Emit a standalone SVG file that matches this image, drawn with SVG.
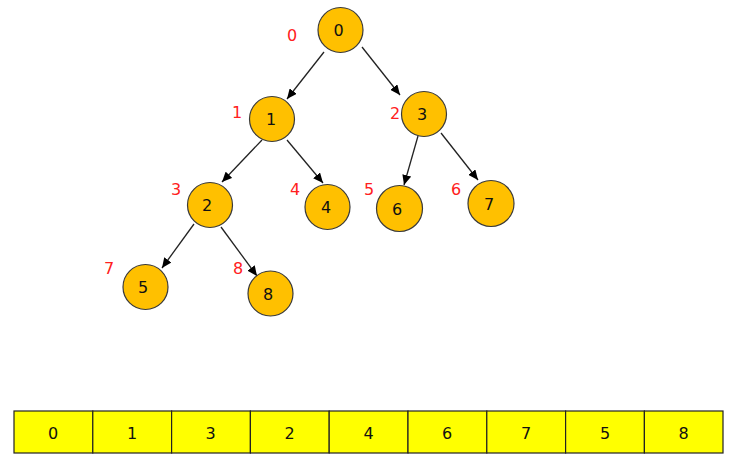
<svg xmlns="http://www.w3.org/2000/svg" width="734" height="462" viewBox="0 0 734 462">
<defs>
<marker id="ah" markerWidth="10" markerHeight="9" refX="10" refY="4.5" orient="auto" markerUnits="userSpaceOnUse">
<path d="M0,0 L10,4.5 L0,9 Z" fill="#000"/>
</marker>
<style>
.n circle{fill:#FFC000;stroke:#3a3a3a;stroke-width:1.2}
.t{font-family:"DejaVu Sans",Verdana,sans-serif;font-size:16px;text-anchor:middle;fill:#111}
.r{font-family:"DejaVu Sans",Verdana,sans-serif;font-size:16px;text-anchor:middle;fill:#ff2020}
.e line{stroke:#222;stroke-width:1.3;marker-end:url(#ah)}
.c rect{fill:#FFFF00;stroke:#222;stroke-width:1.2}
</style>
</defs>
<rect width="734" height="462" fill="#fff"/>
<g id="edges" class="e">
<line x1="324" y1="52" x2="287" y2="99"/>
<line x1="362" y1="47" x2="400" y2="95"/>
<line x1="262" y1="140" x2="222" y2="182"/>
<line x1="287" y1="140" x2="323" y2="183"/>
<line x1="194" y1="224" x2="162" y2="268"/>
<line x1="221" y1="227" x2="257" y2="276"/>
<line x1="418" y1="136" x2="404" y2="185"/>
<line x1="441" y1="133" x2="478" y2="180"/>
</g>
<g id="n0" class="n"><circle cx="340.5" cy="30" r="22.5"/><text class="t" x="338.5" y="36">0</text></g>
<g id="n1" class="n"><circle cx="272" cy="119" r="22.5"/><text class="t" x="271" y="125">1</text></g>
<g id="n3" class="n"><circle cx="424" cy="114" r="22.5"/><text class="t" x="422" y="120">3</text></g>
<g id="n2" class="n"><circle cx="210" cy="205" r="22.5"/><text class="t" x="207" y="211">2</text></g>
<g id="n4" class="n"><circle cx="327.5" cy="207" r="22.5"/><text class="t" x="326" y="213">4</text></g>
<g id="n6" class="n"><circle cx="399.5" cy="208.5" r="23"/><text class="t" x="397" y="215">6</text></g>
<g id="n7" class="n"><circle cx="491" cy="203.5" r="23"/><text class="t" x="489" y="210">7</text></g>
<g id="n5" class="n"><circle cx="145.5" cy="287" r="22.5"/><text class="t" x="143" y="293">5</text></g>
<g id="n8" class="n"><circle cx="270.5" cy="293.5" r="22.5"/><text class="t" x="268" y="300">8</text></g>
<g id="labels">
<text class="r" x="292" y="41">0</text>
<text class="r" x="237" y="118">1</text>
<text class="r" x="395" y="119">2</text>
<text class="r" x="176" y="195">3</text>
<text class="r" x="295" y="195">4</text>
<text class="r" x="369" y="195">5</text>
<text class="r" x="456" y="195">6</text>
<text class="r" x="109" y="274">7</text>
<text class="r" x="238" y="274">8</text>
</g>
<g id="array" class="c">
<rect x="14" y="411" width="78.8" height="42"/>
<rect x="92.8" y="411" width="78.8" height="42"/>
<rect x="171.6" y="411" width="78.8" height="42"/>
<rect x="250.4" y="411" width="78.8" height="42"/>
<rect x="329.2" y="411" width="78.8" height="42"/>
<rect x="408" y="411" width="78.8" height="42"/>
<rect x="486.8" y="411" width="78.8" height="42"/>
<rect x="565.6" y="411" width="78.8" height="42"/>
<rect x="644.4" y="411" width="78.6" height="42"/>
<text class="t" x="53" y="439">0</text>
<text class="t" x="132" y="439">1</text>
<text class="t" x="210.5" y="439">3</text>
<text class="t" x="289.5" y="439">2</text>
<text class="t" x="368.5" y="439">4</text>
<text class="t" x="447" y="439">6</text>
<text class="t" x="526" y="439">7</text>
<text class="t" x="605" y="439">5</text>
<text class="t" x="683.5" y="439">8</text>
</g>
</svg>
